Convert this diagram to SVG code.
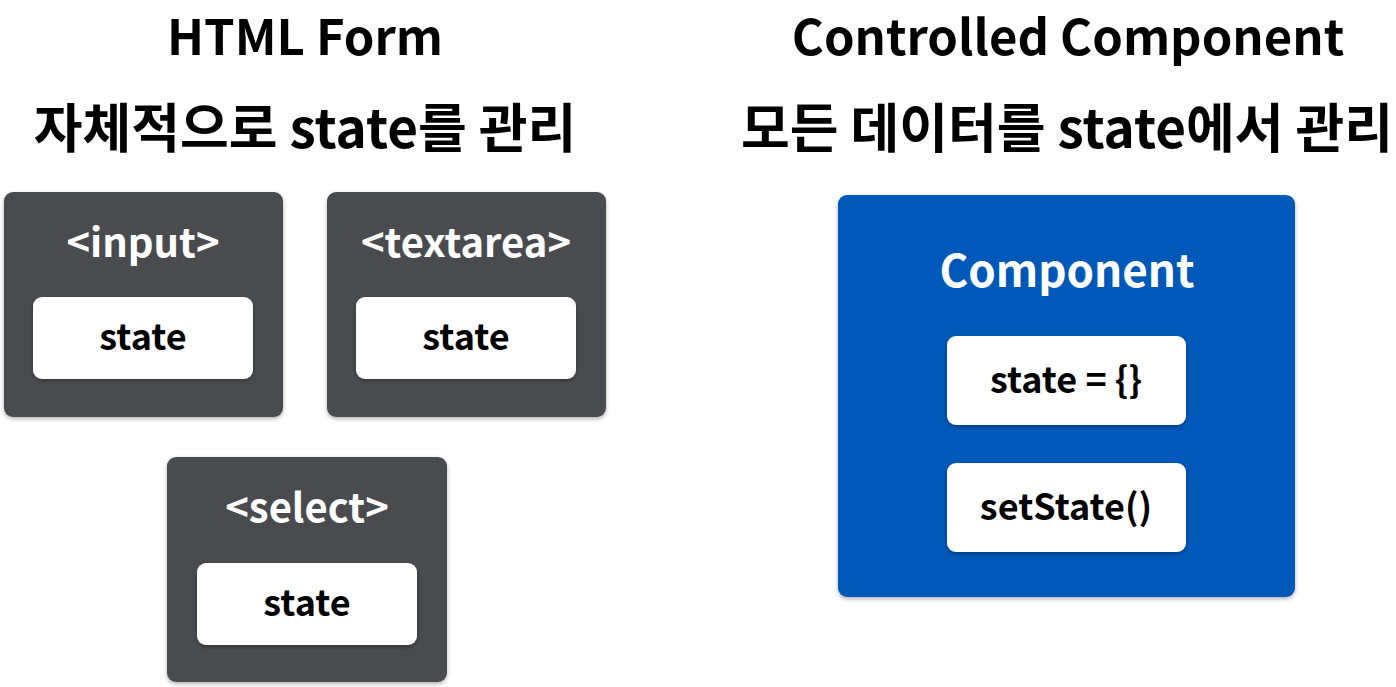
<svg xmlns="http://www.w3.org/2000/svg" width="1396" height="687" viewBox="0 0 1396 687">
<defs>
<filter id="sh" x="-10%" y="-10%" width="120%" height="120%"><feDropShadow dx="0" dy="2" stdDeviation="2" flood-color="#000" flood-opacity="0.3"/></filter>
<style>
text{font-family:"Noto Sans CJK KR","Noto Sans",sans-serif;font-weight:bold;text-anchor:middle}
.title{font-size:49px;fill:#000}
.ko{font-size:53px;fill:#000}
.outer{fill:#4a4b50;filter:url(#sh)}
.blue{fill:#0559b8;filter:url(#sh)}
.inner{fill:#fff;filter:url(#sh)}
.tag{font-size:40px;fill:#fff}
.lbl{font-size:36px;fill:#000}
</style>
</defs>
<rect width="1396" height="687" fill="#fff"/>
<g id="titles">
<text class="title" x="305" y="55">HTML Form</text>
<text class="ko" x="305" y="148">자체적으로 state를 관리</text>
<text class="title" x="1068" y="55">Controlled Component</text>
<text class="ko" x="1067" y="148">모든 데이터를 state에서 관리</text>
</g>
<g id="input">
<rect class="outer" x="4" y="192" width="279" height="225" rx="9"/>
<text class="tag" x="143" y="257">&lt;input&gt;</text>
<rect class="inner" x="33" y="297" width="220" height="82" rx="9"/>
<text class="lbl" x="143" y="350">state</text>
</g>
<g id="textarea">
<rect class="outer" x="327" y="192" width="279" height="225" rx="9"/>
<text class="tag" x="466" y="257">&lt;textarea&gt;</text>
<rect class="inner" x="356" y="297" width="220" height="82" rx="9"/>
<text class="lbl" x="466" y="350">state</text>
</g>
<g id="select">
<rect class="outer" x="167" y="457" width="280" height="225" rx="9"/>
<text class="tag" x="307" y="522">&lt;select&gt;</text>
<rect class="inner" x="197" y="563" width="220" height="82" rx="9"/>
<text class="lbl" x="307" y="616">state</text>
</g>
<g id="component">
<rect class="blue" x="838" y="195" width="457" height="402" rx="9"/>
<text class="tag" x="1067" y="287" style="font-size:44px">Component</text>
<rect class="inner" x="947" y="336" width="239" height="89" rx="9"/>
<text class="lbl" x="1066" y="393">state = {}</text>
<rect class="inner" x="947" y="463" width="239" height="89" rx="9"/>
<text class="lbl" x="1066" y="520">setState()</text>
</g>
<g id="connectors"></g>
</svg>
